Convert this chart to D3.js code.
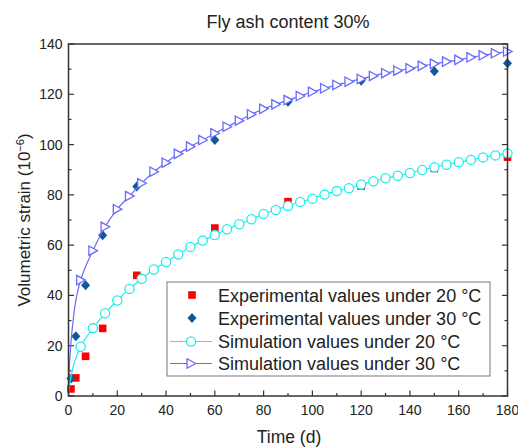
<!DOCTYPE html>
<html>
<head>
	<meta charset="utf-8">
	<title></title>
	<script src="https://d3js.org/d3.v7.min.js"></script>
	<style>
		body{
			margin:0;
			background:#fff;
		}
		text{
			font-family:"Liberation Sans", Arial, sans-serif;
			fill:#222;
		}
	</style>
</head>
<body>
	<svg width='518' height='447'></svg>
</body>
<script>
	// experimental data (days)
	var expTime = [1, 3, 7, 14, 28, 60, 90, 120, 150, 180];
	var exp20 = [2.8, 7.2, 15.8, 26.9, 48, 66.8, 77.3, 83.5, 90.5, 95];
	var exp30 = [7, 23.8, 44, 63.9, 83.3, 101.8, 117, 125.4, 129.2, 132.3];

	// simulation curves, markers every 5 d
	var simTime = [0, 0.25, 0.5, 1, 2, 3, 4, 5, 10, 15, 20, 25, 30, 35, 40, 45, 50, 55, 60, 65, 70, 75, 80, 85, 90,
		95, 100, 105, 110, 115, 120, 125, 130, 135, 140, 145, 150, 155, 160, 165, 170, 175, 180];
	var sim20 = [0, 3, 5, 7.5, 12, 15, 17.5, 19.6, 27, 32.9, 38, 42.6, 46.6, 50.3, 53.3, 56.3, 59.3, 61.8, 64, 66.3, 68.3, 70.3, 72.4, 74, 75.6,
		77.2, 78.5, 80.1, 81.5, 82.6, 84.1, 85.4, 86.6, 87.6, 88.7, 89.9, 91, 92, 93, 93.9, 94.9, 95.7, 96.5];
	var sim30 = [0, 9, 14, 21, 31, 38, 42.5, 46.1, 57.8, 67.3, 74.3, 79.5, 84.6, 89.2, 92.8, 96.3, 99.2, 101.8, 104.5, 107.1, 109.5, 112, 114.2, 116, 117.7,
		119.3, 121, 122.4, 123.7, 125, 126.1, 127.3, 128.4, 129.4, 130.3, 131.3, 132.1, 133, 133.7, 134.7, 135.5, 136.3, 137];

	var xTicks = [0, 20, 40, 60, 80, 100, 120, 140, 160, 180];
	var yTicks = [0, 20, 40, 60, 80, 100, 120, 140];

	var legendLabels = ['Experimental values under 20 \u00b0C', 'Experimental values under 30 \u00b0C',
		'Simulation values under 20 \u00b0C', 'Simulation values under 30 \u00b0C'];

	var red = '#ff0000', navy = '#0d5a98', cyan = '#1eeeee', violet = '#6a6aff';

	var svg = d3.select('svg');
	var pLeft = 68.5, pRight = 507.5, pTop = 44, pBottom = 396;

	var x = d3.scaleLinear().domain([0, 180]).range([pLeft, pRight]);
	var y = d3.scaleLinear().domain([0, 140]).range([pBottom, pTop]);

	var squarePath = 'M-3.8,-3.8H3.8V3.8H-3.8Z';
	var diamondPath = 'M0,-5L4.5,0L0,5L-4.5,0Z';
	var trianglePath = 'M-4,-4.7L4.6,0L-4,4.7Z';

	// ticks, inward
	var minorX = d3.range(0, 181, 10), minorY = d3.range(0, 141, 10);
	var axisG = svg.append('g').attr('stroke', '#333').attr('stroke-width', 1.2);
	minorX.forEach(function(d){
		var len = d % 20 === 0 ? 5.5 : 3;
		axisG.append('line').attr('x1', x(d)).attr('x2', x(d)).attr('y1', pBottom).attr('y2', pBottom - len);
	});
	minorY.forEach(function(d){
		var len = d % 20 === 0 ? 5.5 : 3;
		axisG.append('line').attr('x1', pLeft).attr('x2', pLeft + len).attr('y1', y(d)).attr('y2', y(d));
		axisG.append('line').attr('x1', pRight).attr('x2', pRight - len).attr('y1', y(d)).attr('y2', y(d));
	});

	svg.selectAll('.xlab').data(xTicks).enter()
		.append('text')
		.attr('x', function(d){ return x(d); })
		.attr('y', pBottom + 19)
		.attr('text-anchor', 'middle')
		.style('font-size', '14px')
		.text(function(d){ return d; });

	svg.selectAll('.ylab').data(yTicks).enter()
		.append('text')
		.attr('x', pLeft - 6)
		.attr('y', function(d){ return y(d) + 5; })
		.attr('text-anchor', 'end')
		.style('font-size', '14px')
		.text(function(d){ return d; });

	// experimental points
	svg.append('g').selectAll('path').data(expTime).enter()
		.append('path')
		.attr('d', squarePath)
		.attr('fill', red)
		.attr('transform', function(d, i){ return 'translate(' + x(d) + ',' + y(exp20[i]) + ')'; });

	svg.append('g').selectAll('path').data(expTime).enter()
		.append('path')
		.attr('d', diamondPath)
		.attr('fill', navy)
		.attr('transform', function(d, i){ return 'translate(' + x(d) + ',' + y(exp30[i]) + ')'; });

	// simulation lines + markers
	function drawSim(values, color, mark){
		var pts = simTime.map(function(t, i){ return [t, values[i]]; });
		var line = d3.line()
			.x(function(d){ return x(d[0]); })
			.y(function(d){ return y(d[1]); })
			.curve(d3.curveMonotoneX);
		svg.append('path')
			.attr('d', line(pts))
			.attr('fill', 'none')
			.attr('stroke', color)
			.attr('stroke-width', 1.2);
		svg.append('g').selectAll('.m').data(pts.filter(function(d){ return d[0] >= 5; })).enter()
			.append(mark === 'circle' ? 'circle' : 'path')
			.each(function(d){
				var el = d3.select(this);
				if (mark === 'circle') {
					el.attr('cx', x(d[0])).attr('cy', y(d[1])).attr('r', 4.6);
				} else {
					el.attr('d', trianglePath).attr('transform', 'translate(' + x(d[0]) + ',' + y(d[1]) + ')');
				}
			})
			.attr('fill', '#fff')
			.attr('stroke', color)
			.attr('stroke-width', 1.3);
	}
	drawSim(sim20, cyan, 'circle');
	drawSim(sim30, violet, 'triangle');

	// frame
	svg.append('rect')
		.attr('x', pLeft).attr('y', pTop)
		.attr('width', pRight - pLeft).attr('height', pBottom - pTop)
		.attr('fill', 'none')
		.attr('stroke', '#333')
		.attr('stroke-width', 1.5);

	// legend
	var lg = svg.append('g');
	lg.append('rect')
		.attr('x', 167).attr('y', 282)
		.attr('width', 323).attr('height', 94)
		.attr('fill', '#fff')
		.attr('stroke', '#777')
		.attr('stroke-width', 1);
	var rowY = [295, 318, 341.5, 363.5];
	lg.append('path').attr('d', squarePath).attr('fill', red).attr('transform', 'translate(192,' + rowY[0] + ')');
	lg.append('path').attr('d', diamondPath).attr('fill', navy).attr('transform', 'translate(192,' + rowY[1] + ')');
	lg.append('line').attr('x1', 170).attr('x2', 212).attr('y1', rowY[2]).attr('y2', rowY[2]).attr('stroke', cyan).attr('stroke-width', 1.2);
	lg.append('circle').attr('cx', 191).attr('cy', rowY[2]).attr('r', 4.6).attr('fill', '#fff').attr('stroke', cyan).attr('stroke-width', 1.3);
	lg.append('line').attr('x1', 170).attr('x2', 212).attr('y1', rowY[3]).attr('y2', rowY[3]).attr('stroke', violet).attr('stroke-width', 1.2);
	lg.append('path').attr('d', trianglePath).attr('fill', '#fff').attr('stroke', violet).attr('stroke-width', 1.3)
		.attr('transform', 'translate(191,' + rowY[3] + ')');
	lg.selectAll('text').data(legendLabels).enter()
		.append('text')
		.attr('x', 218)
		.attr('y', function(d, i){ return rowY[i] + 6.5; })
		.style('font-size', '18px')
		.text(function(d){ return d; });

	// titles
	svg.append('text')
		.attr('x', 288).attr('y', 28)
		.attr('text-anchor', 'middle')
		.style('font-size', '18px')
		.text('Fly ash content 30%');

	svg.append('text')
		.attr('x', 289).attr('y', 443)
		.attr('text-anchor', 'middle')
		.style('font-size', '17.5px')
		.text('Time (d)');

	var yt = svg.append('text')
		.attr('transform', 'translate(30,220) rotate(-90)')
		.attr('text-anchor', 'middle')
		.style('font-size', '17px');
	yt.append('tspan').text('Volumetric strain (10');
	yt.append('tspan').attr('dy', -6).style('font-size', '11px').text('\u22126');
	yt.append('tspan').attr('dy', 6).text(')');
</script>
</html>
